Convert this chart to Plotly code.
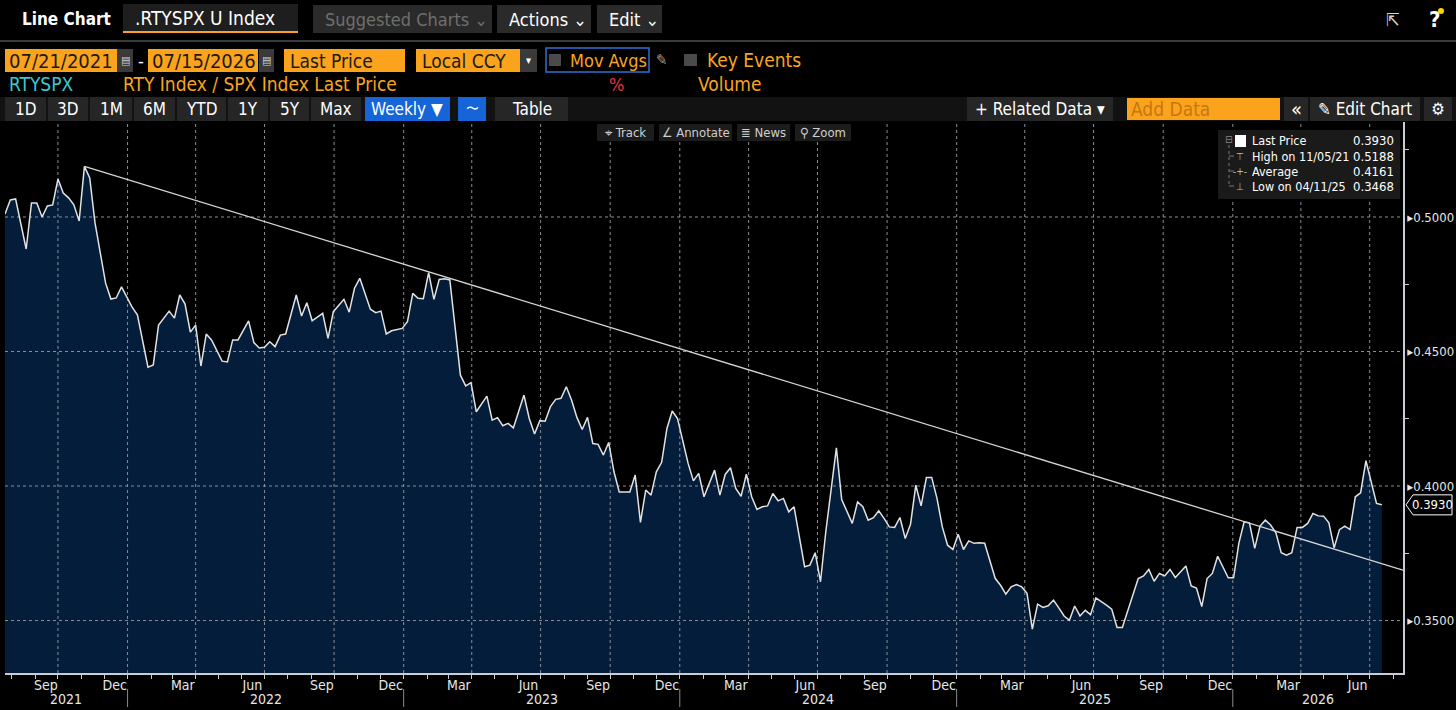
import plotly.graph_objects as go
import pandas as pd

# ---------------- data (weekly, week ending Friday) ----------------
week_ending = pd.date_range("2021-07-23", "2026-07-17", freq="W-FRI")
ratio = [
    0.5011, 0.5063, 0.5067, None, 0.4881, 0.5052, 0.5052, 0.5000, 0.5041, 0.5045,
    0.5141, 0.5089, 0.5071, 0.5045, 0.4985, 0.5188, 0.5145, 0.4978, None, 0.4754,
    0.4695, 0.4699, 0.4740, None, 0.4665, 0.4636, None, 0.4442, 0.4450, 0.4598,
    None, 0.4650, 0.4624, 0.4710, 0.4676, 0.4572, 0.4598, 0.4446, 0.4565, 0.4543,
    0.4505, 0.4464, 0.4461, 0.4543, 0.4543, None, 0.4614, 0.4533, 0.4513, 0.4516,
    0.4536, 0.4518, 0.4561, 0.4565, None, 0.4710, 0.4632, 0.4681, 0.4614, None,
    0.4642, 0.4549, 0.4648, None, 0.4694, 0.4646, 0.4735, 0.4772, None, 0.4657,
    0.4644, 0.4650, 0.4565, 0.4577, None, 0.4586, 0.4611, 0.4716, 0.4698, 0.4696,
    0.4793, 0.4694, 0.4768, 0.4770, 0.4766, None, 0.4412, 0.4372, 0.4384, 0.4276,
    None, 0.4334, 0.4245, 0.4254, 0.4224, 0.4233, 0.4216, None, 0.4338, 0.4251,
    0.4193, 0.4243, 0.4241, 0.4295, 0.4322, 0.4326, 0.4369, 0.4319, 0.4255, 0.4210,
    0.4255, 0.4158, 0.4155, 0.4115, 0.4162, 0.4053, 0.3978, 0.3978, 0.3978, 0.4041,
    0.3865, 0.3985, 0.3966, 0.4053, 0.4088, 0.4214, 0.4279, 0.4251, None, 0.4084,
    0.4019, 0.4047, 0.3960, None, 0.4059, 0.3966, 0.4043, 0.4068, 0.3991, 0.3962,
    0.4044, 0.3960, 0.3913, 0.3923, 0.3926, 0.3972, 0.3945, 0.3954, 0.3904, 0.3923,
    None, 0.3700, 0.3706, 0.3752, 0.3644, 0.3830, None, 0.4142, 0.3950, None,
    0.3861, 0.3941, 0.3923, 0.3873, 0.3882, 0.3908, 0.3880, 0.3848, 0.3846, 0.3883,
    0.3805, 0.3858, 0.4003, 0.3926, 0.4032, 0.4032, 0.3954, 0.3848, 0.3780, 0.3764,
    0.3821, 0.3764, 0.3796, 0.3787, 0.3789, 0.3787, None, 0.3656, 0.3631, 0.3598,
    0.3625, 0.3634, 0.3625, 0.3601, 0.3468, 0.3561, 0.3549, 0.3555, 0.3576, 0.3547,
    0.3517, 0.3501, 0.3554, 0.3517, 0.3538, 0.3522, 0.3584, None, 0.3557, 0.3542,
    0.3474, 0.3474, None, None, 0.3656, 0.3666, 0.3690, 0.3646, 0.3675, 0.3666,
    0.3690, 0.3660, None, 0.3703, 0.3629, 0.3621, 0.3552, 0.3656, 0.3675, 0.3739,
    0.3700, 0.3659, 0.3659, 0.3787, 0.3867, 0.3863, 0.3768, 0.3851, 0.3873, 0.3855,
    0.3826, 0.3752, 0.3743, 0.3752, 0.3846, 0.3846, 0.3861, 0.3898, 0.3889, 0.3888,
    0.3863, 0.3770, 0.3838, 0.3851, 0.3838, 0.3960, 0.3975, 0.4094, None, 0.3935,
    0.3930,
]
trend_dates = ["2021-11-05", "2026-08-14"]
trend_values = [0.5188, 0.3687]

y_tick_values = [0.35, 0.40, 0.45, 0.50]
y_minor_values = [0.375, 0.425, 0.475, 0.525]
stat_labels = ["Last Price", "High on 11/05/21", "Average", "Low on 04/11/25"]
stat_values = ["0.3930", "0.5188", "0.4161", "0.3468"]
last_price = 0.3930
x_start, x_end = "2021-07-23", "2026-08-14"
y_lo, y_hi = 0.3305, 0.5353

series = pd.Series(ratio, index=week_ending, dtype="float").dropna()

# ---------------- geometry helpers (layout only) ----------------
W, H = 1456, 710
L, R, T, B = 5, 53, 122, 37
PW = W - L - R
PH = H - T - B
FONT = "Liberation Sans Narrow, DejaVu Sans Condensed, Roboto, sans-serif"
ORANGE = "#fba31c"
ORANGE_TXT = "#f8a51f"
NAVY = "#031d3b"


def X(px):
    return (px - L) / PW


def Y(py):
    return (H - B - py) / PH


shapes = []
anns = []


def box(x0, y0, x1, y1, fill, line=None, lw=1):
    shapes.append(dict(type="rect", xref="paper", yref="paper",
                       x0=X(x0), x1=X(x1), y0=Y(y1), y1=Y(y0),
                       fillcolor=fill, layer="above",
                       line=dict(color=line if line else fill, width=lw if line else 0)))


def hline(x0, x1, py, color, width=1, dash="solid"):
    shapes.append(dict(type="line", xref="paper", yref="paper", x0=X(x0), x1=X(x1),
                       y0=Y(py), y1=Y(py), layer="above",
                       line=dict(color=color, width=width, dash=dash)))


def vline(px, y0, y1, color, width=1, dash="solid"):
    shapes.append(dict(type="line", xref="paper", yref="paper", x0=X(px), x1=X(px),
                       y0=Y(y0), y1=Y(y1), layer="above",
                       line=dict(color=color, width=width, dash=dash)))


def txt(px, py, s, color="#e8e8e8", size=17, anchor="left", bold=False):
    anns.append(dict(x=X(px), y=Y(py), xref="paper", yref="paper",
                     text=f"<b>{s}</b>" if bold else s, showarrow=False,
                     xanchor=anchor, yanchor="middle",
                     font=dict(color=color, size=size, family=FONT)))


# ---------------- axis decorations ----------------
quarter_months = pd.date_range("2021-09-01", "2026-06-01", freq="3MS")
month_tick_dates = quarter_months + pd.Timedelta(days=14)
month_tick_labels = [d.strftime("%b") for d in quarter_months]
grid_dates = pd.date_range("2021-10-01", "2026-07-01", freq="3MS")
year_starts = pd.to_datetime(["2022-01-01", "2023-01-01", "2024-01-01", "2025-01-01", "2026-01-01"])
year_edges = [pd.Timestamp(x_start)] + list(year_starts) + [pd.Timestamp(x_end)]
year_labels = ["2021", "2022", "2023", "2024", "2025", "2026"]

fig = go.Figure()

# filled area (below grid)
fig.add_trace(go.Scatter(x=series.index, y=series.values, mode="none", fill="tozeroy",
                         fillcolor=NAVY, hoverinfo="skip"))

# dotted grid above the fill
gx, gy = [], []
for d in grid_dates:
    gx += [d, d, None]
    gy += [y_lo, y_hi, None]
for v in y_tick_values:
    gx += [pd.Timestamp(x_start), pd.Timestamp(x_end), None]
    gy += [v, v, None]
fig.add_trace(go.Scatter(x=gx, y=gy, mode="lines", hoverinfo="skip",
                         line=dict(color="#8a8f96", width=1, dash="dot")))

# price line
fig.add_trace(go.Scatter(x=series.index, y=series.values, mode="lines",
                         line=dict(color="#e2e2e2", width=1.5), name="RTYSPX"))

# trend line
fig.add_trace(go.Scatter(x=trend_dates, y=trend_values, mode="lines",
                         line=dict(color="#d6d6d6", width=1.3), hoverinfo="skip"))

# year separators & labels
for d in year_starts:
    shapes.append(dict(type="line", xref="x", yref="paper", x0=d, x1=d,
                       y0=Y(689), y1=Y(707), line=dict(color="#8a8a8a", width=1)))
for i, lab in enumerate(year_labels):
    mid = year_edges[i] + (year_edges[i + 1] - year_edges[i]) / 2
    anns.append(dict(x=mid, y=Y(699), xref="x", yref="paper", text=lab, showarrow=False,
                     xanchor="center", yanchor="middle",
                     font=dict(color="#e6e6e6", size=14, family=FONT)))

# last price tag (pointed box)
half_h = 10 * (y_hi - y_lo) / PH
lp_path = (f"M {X(1406)},{last_price} L {X(1413)},{last_price + half_h} "
           f"L {X(1452)},{last_price + half_h} L {X(1452)},{last_price - half_h} "
           f"L {X(1413)},{last_price - half_h} Z")
shapes.append(dict(type="path", xref="paper", yref="y", path=lp_path,
                   fillcolor="#000000", line=dict(color="#ffffff", width=1), layer="above"))
anns.append(dict(x=X(1432), y=last_price, xref="paper", yref="y", text=f"{last_price:.4f}",
                 showarrow=False, xanchor="center", yanchor="middle",
                 font=dict(color="#ffffff", size=13, family=FONT)))

# ---------------- Bloomberg chrome ----------------
# row 1
txt(20, 19, "Line Chart", "#ffffff", 17, bold=True)
box(123, 4, 298, 31, "#1e1e1e")
hline(123, 298, 32, ORANGE, 2)
txt(133, 18, ".RTYSPX U Index", "#ffffff", 19)
box(313, 5, 492, 33, "#2a2a2a")
txt(323, 19, "Suggested Charts ⌄", "#6f6f6f", 18)
box(497, 5, 591, 33, "#2a2a2a")
txt(507, 19, "Actions ⌄", "#ffffff", 18)
box(597, 5, 662, 33, "#2a2a2a")
txt(607, 19, "Edit ⌄", "#ffffff", 18)
txt(1393, 19, "⇱", "#d0d0d0", 18, anchor="center")
txt(1434, 19, "?", "#ffffff", 22, anchor="center", bold=True)
shapes.append(dict(type="circle", xref="paper", yref="paper", x0=X(1438), x1=X(1444),
                   y0=Y(14), y1=Y(8), fillcolor="#ffd400", line=dict(width=0), layer="above"))
hline(0, 1456, 41, "#3a3a3a", 2)

# row 2
box(5, 49, 117, 72, ORANGE)
txt(7, 61, "07/21/2021", "#1a1a1a", 20)
box(117, 49, 133, 72, "#3a3a3a")
txt(125, 60, "▤", "#cfcfcf", 11, anchor="center")
txt(141, 61, "-", "#ffffff", 18, anchor="center")
box(148, 49, 258, 72, ORANGE)
txt(150, 61, "07/15/2026", "#1a1a1a", 20)
box(259, 49, 274, 72, "#3a3a3a")
txt(266, 60, "▤", "#cfcfcf", 11, anchor="center")
box(284, 49, 405, 72, ORANGE)
txt(288, 61, "Last Price", "#1a1a1a", 19)
box(416, 49, 520, 72, ORANGE)
txt(420, 61, "Local CCY", "#1a1a1a", 19)
box(520, 49, 537, 72, "#3a3a3a")
txt(528, 61, "▾", "#ffffff", 11, anchor="center")
box(546, 48, 649, 72, "#000000", "#2f6fd0", 1.5)
box(549, 54, 561, 66, "#4a4a4a")
txt(568, 61, "Mov Avgs", ORANGE_TXT, 18)
txt(661, 60, "✎", "#9a9a9a", 15, anchor="center")
box(684, 54, 697, 66, "#4a4a4a")
txt(705, 60, "Key Events", ORANGE_TXT, 19)

# row 3
txt(7, 84, "RTYSPX", "#3cc8d0", 19)
txt(121, 84, "RTY Index / SPX Index Last Price", ORANGE_TXT, 19)
txt(616, 84, "%", "#e8343c", 18, anchor="center")
txt(696, 84, "Volume", ORANGE_TXT, 19)

# row 4 toolbar
box(0, 97, 1456, 121, "#121212")
for (x0, x1, lab) in [(5, 46, "1D"), (48, 88, "3D"), (90, 132, "1M"), (134, 175, "6M"),
                      (177, 226, "YTD"), (228, 268, "1Y"), (270, 309, "5Y"), (311, 361, "Max")]:
    box(x0, 97, x1, 121, "#262626")
    txt((x0 + x1) / 2, 109, lab, "#ffffff", 17, anchor="center")
box(365, 97, 450, 121, "#1565d8")
txt(407, 109, "Weekly ▼", "#ffffff", 17, anchor="center")
box(458, 97, 486, 121, "#1565d8")
txt(472, 108, "〜", "#ffffff", 13, anchor="center")
box(495, 97, 568, 121, "#262626")
txt(532, 109, "Table", "#ffffff", 17, anchor="center")
box(967, 97, 1113, 121, "#262626")
txt(1040, 109, "+ Related Data ▾", "#ffffff", 17, anchor="center")
box(1127, 98, 1280, 120, ORANGE)
txt(1129, 109, "Add Data", "#c67710", 19)
box(1284, 97, 1308, 121, "#262626")
txt(1296, 109, "«", "#ffffff", 20, anchor="center")
box(1310, 97, 1420, 121, "#262626")
txt(1365, 109, "✎ Edit Chart", "#ffffff", 17, anchor="center")
box(1424, 97, 1452, 121, "#262626")
txt(1438, 109, "⚙", "#ffffff", 17, anchor="center")

# chart tools
for (x0, x1, lab) in [(597, 654, "⌖ Track"), (659, 732, "∠ Annotate"),
                      (737, 790, "≣ News"), (795, 851, "⚲ Zoom")]:
    box(x0, 124, x1, 141, "#1c1c1c")
    txt((x0 + x1) / 2, 132, lab, "#cfcfcf", 13, anchor="center")

# stats box
box(1218, 130, 1400, 199, "#1a1a1a")
vline(1229, 145, 187, "#777777", 1, "dot")
for py in (156, 171, 186):
    hline(1229, 1234, py, "#777777", 1)
txt(1229, 140, "⊟", "#888888", 10, anchor="center")
box(1235, 135, 1246, 147, "#ffffff")
icons = ["", "⊤", "-+-", "⊥"]
for i, (lab, val) in enumerate(zip(stat_labels, stat_values)):
    py = 141 + 15 * i
    if icons[i]:
        txt(1240, py, icons[i], "#bbbbbb", 10, anchor="center")
    txt(1250, py, lab, "#ffffff", 12.5)
    txt(1396, py, val, "#ffffff", 13, anchor="right")

fig.update_layout(
    width=W, height=H, autosize=False,
    margin=dict(l=L, r=R, t=T, b=B, pad=0),
    paper_bgcolor="#000000", plot_bgcolor="#000000",
    showlegend=False,
    shapes=shapes, annotations=anns,
    xaxis=dict(type="date", range=[x_start, x_end], automargin=False,
               tickvals=list(month_tick_dates), ticktext=month_tick_labels,
               ticks="", showgrid=False, zeroline=False, ticklabelstandoff=-2,
               showline=True, linecolor="#c9ccd2", linewidth=2,
               tickfont=dict(color="#e6e6e6", size=14, family=FONT),
               minor=dict(dtick="M1", tick0="2021-08-01", ticks="outside", ticklen=4,
                          tickcolor="#c9ccd2", showgrid=False)),
    yaxis=dict(side="right", range=[y_lo, y_hi], automargin=False,
               tickvals=y_tick_values, ticktext=["▸" + f"{v:.4f}" for v in y_tick_values],
               ticks="", showgrid=False, zeroline=False,
               showline=True, linecolor="#c9ccd2", linewidth=1.5,
               tickfont=dict(color="#e6e6e6", size=13, family=FONT),
               minor=dict(tickvals=y_minor_values, ticks="outside", ticklen=4,
                          tickcolor="#c9ccd2", showgrid=False)),
)

fig.write_html("out.html", config={"displayModeBar": False},
               post_script="document.body.style.margin='0';")
